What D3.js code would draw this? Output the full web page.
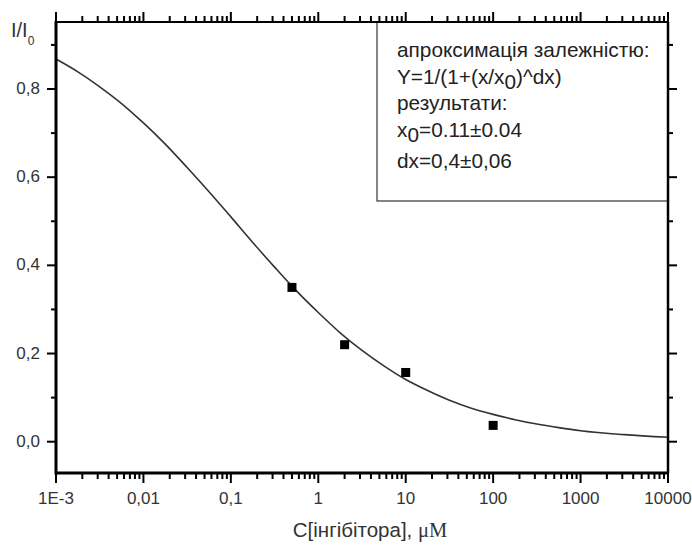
<!DOCTYPE html>
<html>
<head>
<meta charset="utf-8">
<script src="https://cdn.jsdelivr.net/npm/d3@7"></script>
<style>
  body { margin: 0; background: #fff; }
  svg { display: block; font-family: "Liberation Sans", Arial, sans-serif; }
  .tick-label { fill: #333; font-size: 17px; }
  .legend-text { fill: #222; font-size: 20.8px; }
</style>
</head>
<body>
<div id="chart"></div>
<script>
const pointsC = [0.5, 2, 10, 100];
const pointsY = [0.35, 0.22, 0.157, 0.037];

const fitLogC = [-3, -2.75, -2.5, -2.25, -2, -1.75, -1.5, -1.25, -1, -0.75, -0.5, -0.25,
  0, 0.25, 0.5, 0.75, 1, 1.25, 1.5, 1.75, 2, 2.25, 2.5, 2.75, 3, 3.5, 4];
const fitY = [0.868, 0.839, 0.805, 0.767, 0.723, 0.675, 0.622, 0.567, 0.510, 0.452, 0.396, 0.342,
  0.293, 0.247, 0.207, 0.172, 0.141, 0.116, 0.094, 0.076, 0.062, 0.050, 0.040, 0.032, 0.025, 0.016, 0.010];

const xMajor = [1e-3, 1e-2, 1e-1, 1, 10, 100, 1000, 10000];
const xLabels = ["1E-3", "0,01", "0,1", "1", "10", "100", "1000", "10000"];
const yMajor = [0, 0.2, 0.4, 0.6, 0.8];
const yLabels = ["0,0", "0,2", "0,4", "0,6", "0,8"];
const yMinor = [0.1, 0.3, 0.5, 0.7, 0.9];

const legendLines = [
  "апроксимація залежністю:",
  "Y=1/(1+(x/x0)^dx)",
  "результати:",
  "x0=0.11±0.04",
  "dx=0,4±0,06"
];

const width = 692, height = 546;
const m = { top: 22, right: 24, bottom: 73, left: 56 };
const iW = width - m.left - m.right, iH = height - m.top - m.bottom;

const x = d3.scaleLog([1e-3, 1e4], [0, iW]);
const y = d3.scaleLinear([-0.071, 0.952], [iH, 0]);

const svg = d3.select("#chart").append("svg").attr("width", width).attr("height", height);
const g = svg.append("g").attr("transform", `translate(${m.left},${m.top})`);

// Legend box (sits in the top-right corner, sharing the frame edges)
const lx = 321;
g.append("rect").attr("x", lx).attr("y", 0).attr("width", iW - lx).attr("height", 179)
  .attr("fill", "#fff").attr("stroke", "#444").attr("stroke-width", 1.3);

const lt = g.append("g").attr("class", "legend-text");
const lineYs = [35, 62, 88, 115, 146];
lt.append("text").attr("x", lx + 20).attr("y", lineYs[0]).text(legendLines[0]);
const formula = lt.append("text").attr("x", lx + 20).attr("y", lineYs[1]);
formula.append("tspan").text("Y=1/(1+(x/x");
formula.append("tspan").attr("dy", 5).text("0");
formula.append("tspan").attr("dy", -5).text(")^dx)");
lt.append("text").attr("x", lx + 20).attr("y", lineYs[2]).text(legendLines[2]);
const x0t = lt.append("text").attr("x", lx + 20).attr("y", lineYs[3]);
x0t.append("tspan").text("x");
x0t.append("tspan").attr("dy", 5).text("0");
x0t.append("tspan").attr("dy", -5).text("=0.11±0.04");
lt.append("text").attr("x", lx + 20).attr("y", lineYs[4]).text(legendLines[4]);

// Fitted curve
const fit = fitLogC.map((l, i) => ({ c: Math.pow(10, l), v: fitY[i] }));
g.append("path").datum(fit)
  .attr("fill", "none").attr("stroke", "#333").attr("stroke-width", 1.6)
  .attr("d", d3.line().x((d) => x(d.c)).y((d) => y(d.v)).curve(d3.curveMonotoneX));

// Data points
g.selectAll(".pt").data(pointsC).join("rect").attr("class", "pt")
  .attr("x", (d) => x(d) - 4.5).attr("y", (d, i) => y(pointsY[i]) - 4.5)
  .attr("width", 9).attr("height", 9).attr("fill", "#000");

// Frame
const frame = g.append("g").attr("stroke", "#000").attr("fill", "none");
frame.append("line").attr("x1", 0).attr("x2", iW).attr("y1", 0).attr("y2", 0).attr("stroke-width", 2);
frame.append("line").attr("x1", iW).attr("x2", iW).attr("y1", 0).attr("y2", iH).attr("stroke-width", 2.5);
frame.append("line").attr("x1", 0).attr("x2", iW).attr("y1", iH).attr("y2", iH).attr("stroke-width", 3);
frame.append("line").attr("x1", 0).attr("x2", 0).attr("y1", -1).attr("y2", iH + 1.5).attr("stroke-width", 3);

// X ticks (bottom and top, outward)
const xMinor = x.ticks().filter((t) => !xMajor.some((mj) => Math.abs(mj - t) / mj < 1e-6));
const ticks = g.append("g").attr("stroke", "#000").attr("stroke-width", 2);
for (const [vals, len] of [[xMajor, 10], [xMinor, 6]]) {
  ticks.selectAll(null).data(vals).join("line")
    .attr("x1", (d) => x(d)).attr("x2", (d) => x(d)).attr("y1", iH).attr("y2", iH + len);
  ticks.selectAll(null).data(vals).join("line")
    .attr("x1", (d) => x(d)).attr("x2", (d) => x(d)).attr("y1", 0).attr("y2", -len);
}
// Y ticks (left and right, outward)
for (const [vals, len] of [[yMajor, 9], [yMinor, 5]]) {
  ticks.selectAll(null).data(vals).join("line")
    .attr("x1", 0).attr("x2", -len).attr("y1", (d) => y(d)).attr("y2", (d) => y(d));
  ticks.selectAll(null).data(vals).join("line")
    .attr("x1", iW).attr("x2", iW + len).attr("y1", (d) => y(d)).attr("y2", (d) => y(d));
}

// Tick labels
g.selectAll(".xl").data(xMajor).join("text").attr("class", "tick-label")
  .attr("x", (d) => x(d)).attr("y", iH + 31).attr("text-anchor", "middle")
  .text((d, i) => xLabels[i]);
g.selectAll(".yl").data(yMajor).join("text").attr("class", "tick-label")
  .attr("x", -16).attr("y", (d) => y(d) + 5).attr("text-anchor", "end")
  .text((d, i) => yLabels[i]);

// Axis titles
const yt = svg.append("text").attr("class", "tick-label").attr("x", 11).attr("y", 37)
  .style("font-size", "20px");
yt.append("tspan").text("I/I");
yt.append("tspan").attr("dy", 8).style("font-size", "12px").text("0");

const xt = svg.append("text").attr("class", "tick-label").attr("x", 370).attr("y", 537)
  .attr("text-anchor", "middle").style("font-size", "20.5px");
xt.append("tspan").text("C[інгібітора], ");
xt.append("tspan").style("font-family", "'Liberation Serif', 'Times New Roman', serif").text("μM");
</script>
</body>
</html>
